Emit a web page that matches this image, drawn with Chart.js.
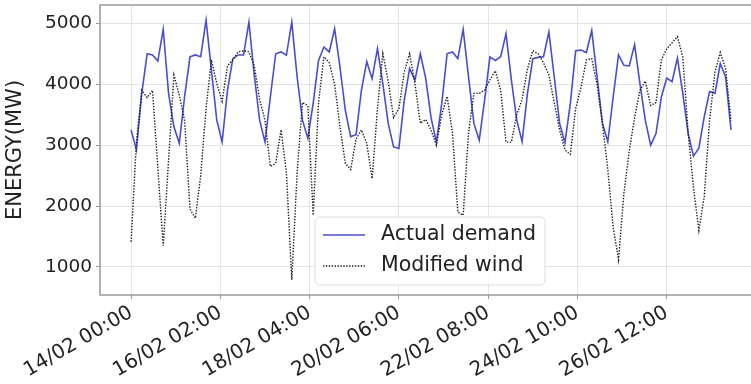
<!DOCTYPE html>
<html>
<head>
<meta charset="utf-8">
<script src="https://cdn.jsdelivr.net/npm/chart.js@4.4.1/dist/chart.umd.min.js"></script>
<style>
  html, body { margin: 0; padding: 0; background: #fff; overflow: hidden; }
  canvas { display: block; }
</style>
</head>
<body>
<canvas id="myChart" width="751" height="384"></canvas>
<script>
// readings every 3 hours, starting 14/02 00:00
const stepHours = 3;

const demand = [
  3250, 2920, 3850, 4500, 4480, 4380, 4900, 3850,
  3300, 3030, 3800, 4450, 4480, 4450, 5050, 4230,
  3410, 3055, 3900, 4420, 4480, 4480, 5020, 4150,
  3410, 3050, 3790, 4500, 4530, 4475, 5020, 4120,
  3410, 3110, 3690, 4390, 4610, 4530, 4910, 4280,
  3570, 3140, 3170, 3900, 4370, 4090, 4585, 4010,
  3360, 2970, 2945, 3740, 4257, 4066, 4500, 4100,
  3450, 3050, 3680, 4500, 4530, 4420, 4900, 4120,
  3360, 3080, 3740, 4450, 4390, 4450, 4830, 4070,
  3410, 3060, 3850, 4420, 4440, 4450, 4860, 4120,
  3360, 3040, 3680, 4550, 4560, 4520, 4880, 4120,
  3360, 3055, 3790, 4480, 4310, 4300, 4650, 4010,
  3410, 3000, 3190, 3790, 4100, 4040, 4430, 3850,
  3190, 2820, 2950, 3465, 3880, 3850, 4340, 4120,
  3250
];

const wind = [
  1415, 3050, 3900, 3780, 3900, 2620, 1350, 2750,
  4150, 3820, 3400, 1950, 1800, 2500, 3600, 4400,
  4010, 3720, 4300, 4400, 4530, 4550, 4530, 4300,
  3750, 3410, 2650, 2700, 3250, 2550, 790, 2550,
  3700, 3650, 1850, 3700, 4450, 4350, 4000, 3300,
  2700, 2600, 3100, 3250, 3030, 2450, 3600, 4500,
  4050, 3450, 3600, 4200, 4500, 4010, 3360, 3420,
  3250, 3000, 3500, 3800, 3200, 1900, 1850, 3200,
  3850, 3850, 3900, 4070, 4220, 3900, 3050, 3050,
  3500, 3750, 4250, 4550, 4500, 4350, 4150, 3700,
  3250, 2920, 2850, 3600, 3950, 4400, 4420, 4000,
  3350, 2600, 1650, 1120, 2200, 2900, 3450, 3900,
  4050, 3650, 3700, 4400, 4580, 4680, 4780, 4450,
  3200, 2300, 1600, 2150, 3400, 4200, 4520, 4250,
  3400
];

const tickHours = [0, 50, 100, 150, 200, 250, 300];
const tickLabels = ['14/02 00:00', '16/02 02:00', '18/02 04:00', '20/02 06:00',
                    '22/02 08:00', '24/02 10:00', '26/02 12:00'];
const yTicks = [1000, 2000, 3000, 4000, 5000];
const seriesNames = ['Actual demand', 'Modified wind'];

const toPoints = arr => arr.map((v, i) => ({ x: i * stepHours, y: v }));

const FONT = 'DejaVu Sans';
const GRID = '#e4e4e4';

// spines: top, left, bottom (the right one is cut off in the picture)
const frame = {
  id: 'frame',
  afterDatasetsDraw(chart) {
    const { ctx, chartArea: a, width } = chart;
    ctx.save();
    ctx.strokeStyle = '#9a9a9a';
    ctx.lineWidth = 1.5;
    ctx.beginPath();
    ctx.moveTo(width + 2, a.top);
    ctx.lineTo(a.left, a.top);
    ctx.lineTo(a.left, a.bottom);
    ctx.lineTo(width + 2, a.bottom);
    ctx.stroke();
    ctx.restore();
  }
};

// boxed legend inside the plot
const boxLegend = {
  id: 'boxLegend',
  afterDraw(chart) {
    const ctx = chart.ctx;
    const x0 = 315, y0 = 217, w = 230, h = 68, r = 5;
    ctx.save();
    ctx.beginPath();
    ctx.moveTo(x0 + r, y0);
    ctx.arcTo(x0 + w, y0, x0 + w, y0 + h, r);
    ctx.arcTo(x0 + w, y0 + h, x0, y0 + h, r);
    ctx.arcTo(x0, y0 + h, x0, y0, r);
    ctx.arcTo(x0, y0, x0 + w, y0, r);
    ctx.closePath();
    ctx.fillStyle = 'rgba(255,255,255,0.85)';
    ctx.fill();
    ctx.strokeStyle = '#dcdcdc';
    ctx.lineWidth = 1;
    ctx.stroke();

    chart.data.datasets.forEach((ds, i) => {
      const ly = y0 + 18 + i * 31;
      ctx.beginPath();
      ctx.setLineDash(ds.borderDash || []);
      ctx.strokeStyle = ds.borderColor;
      ctx.lineWidth = ds.borderWidth;
      ctx.moveTo(x0 + 8, ly);
      ctx.lineTo(x0 + 50, ly);
      ctx.stroke();
      ctx.setLineDash([]);
      ctx.fillStyle = '#222';
      ctx.font = '20.5px "' + FONT + '"';
      ctx.textBaseline = 'middle';
      ctx.fillText(ds.label, x0 + 66, ly);
    });
    ctx.restore();
  }
};

new Chart(document.getElementById('myChart'), {
  type: 'line',
  data: {
    datasets: [
      {
        label: seriesNames[0],
        data: toPoints(demand),
        borderColor: 'rgb(72,78,205)',
        borderWidth: 1.6,
        pointRadius: 0,
        tension: 0,
        order: 1
      },
      {
        label: seriesNames[1],
        data: toPoints(wind),
        borderColor: '#1c1c1c',
        borderWidth: 1.4,
        borderDash: [1.4, 1.5],
        pointRadius: 0,
        tension: 0,
        order: 0
      }
    ]
  },
  options: {
    responsive: false,
    animation: false,
    layout: { padding: { top: 5, right: 0, left: 0, bottom: 0 } },
    plugins: {
      legend: { display: false },
      tooltip: { enabled: false }
    },
    scales: {
      x: {
        type: 'linear',
        min: -17.4,
        max: 347.2,
        afterBuildTicks: axis => { axis.ticks = tickHours.map(v => ({ value: v })); },
        afterFit: scale => { scale.height = 89; scale.paddingRight = 0; },
        ticks: {
          autoSkip: false,
          minRotation: 30,
          maxRotation: 30,
          padding: 2,
          color: '#222',
          font: { family: FONT, size: 20 },
          callback: (v) => tickLabels[tickHours.indexOf(v)]
        },
        grid: {
          color: c => (c.tick && tickHours.includes(c.tick.value)) ? GRID : 'rgba(0,0,0,0)',
          tickColor: c => (c.tick && tickHours.includes(c.tick.value)) ? '#9a9a9a' : 'rgba(0,0,0,0)',
          lineWidth: 1,
          tickLength: 4
        },
        border: { display: false }
      },
      y: {
        min: 540,
        max: 5300,
        afterBuildTicks: axis => { axis.ticks = yTicks.map(v => ({ value: v })); },
        afterFit: scale => { scale.width = 100; scale.paddingTop = 0; scale.paddingBottom = 0; },
        ticks: {
          padding: 4,
          color: '#222',
          font: { family: FONT, size: 18.5 },
          callback: v => String(v)
        },
        grid: { color: GRID, lineWidth: 1, tickLength: 4, tickColor: '#9a9a9a' },
        border: { display: false },
        title: {
          display: true,
          text: 'ENERGY(MW)',
          color: '#222',
          font: { family: FONT, size: 21 },
          padding: { top: 3, bottom: 0 }
        }
      }
    }
  },
  plugins: [frame, boxLegend]
});
</script>
</body>
</html>
